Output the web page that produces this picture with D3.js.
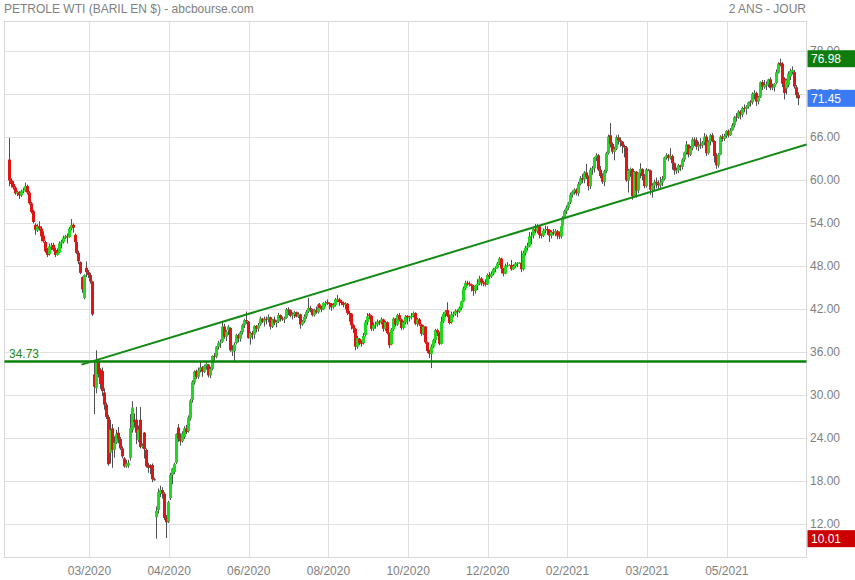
<!DOCTYPE html>
<html><head><meta charset="utf-8">
<script src="https://cdn.jsdelivr.net/npm/d3@7"></script>
<style>html,body{margin:0;padding:0;background:#fff;}svg{display:block;font-family:"Liberation Sans",Arial,sans-serif;}</style>
</head><body><svg id="c" width="855" height="580"></svg>
<script>
// Daily candles [open, high, low, close]
const p2020q1 = [
[62.9,65.9,59.2,60.0],[60.0,60.3,59.0,59.5],[59.5,59.9,58.7,59.0],[59.0,59.2,58.0,58.2],[58.2,58.6,57.8,58.4],
[58.4,58.5,57.4,57.9],[57.9,58.7,57.7,58.5],[58.5,59.0,58.2,58.6],[58.6,59.7,58.4,59.2],[59.2,59.4,58.0,58.3],
[58.3,58.5,56.6,56.8],[56.8,57.0,55.4,55.6],[55.7,55.9,54.0,54.2],[53.8,54.0,52.4,53.1],[53.0,53.9,52.8,53.6],
[53.6,54.3,53.0,53.3],[53.3,53.6,51.5,52.2],[52.3,52.9,51.3,51.5],[51.4,51.6,49.9,50.1],[50.2,50.6,49.3,49.6],
[49.7,51.2,49.5,50.8],[50.8,51.3,50.3,50.9],[51.0,51.3,50.1,50.3],[50.3,50.6,49.3,49.6],[49.6,50.5,49.5,49.9],
[49.9,51.5,49.8,51.2],[51.2,51.7,50.5,51.4],[51.4,52.3,51.2,52.0],[52.0,52.4,51.8,52.2],[52.2,52.6,51.2,52.1],
[52.1,53.5,52.0,53.3],[53.3,54.6,53.0,53.8],[53.8,54.0,52.7,53.4],[52.4,52.6,50.9,51.4],[51.4,51.6,49.7,49.9],
[49.9,50.2,48.3,48.7],[48.6,48.7,46.9,47.1],[46.5,46.6,44.3,44.8],[43.6,46.9,43.4,46.8],[47.8,48.7,46.5,47.2],
[47.2,47.5,46.4,46.8],[46.8,47.1,45.6,45.9],[45.9,46.0,41.1,41.3],[32.9,34.9,27.4,31.2],[31.0,36.3,30.3,34.6],
[34.7,34.9,32.5,33.0],[33.6,33.8,30.9,31.6],[33.4,33.9,29.9,30.6],[30.4,31.0,28.0,28.7],[28.7,29.0,26.7,27.0],
[27.0,27.3,20.2,20.4],[22.0,26.6,20.5,25.2],[25.4,26.0,19.9,22.4],[22.4,24.3,21.3,23.4],[23.4,25.2,23.2,24.6],
[24.8,25.6,23.3,23.9],[23.9,24.2,22.4,22.6],[22.6,22.9,21.2,21.5],[21.2,21.4,19.9,20.1],[20.1,21.0,19.9,20.5]
];
const p2020q2 = [
[20.2,21.0,19.9,20.6],[21.3,27.4,20.9,25.4],[25.2,29.2,24.8,28.3],[26.6,27.5,25.5,26.3],[26.6,28.4,23.2,24.8],
[23.8,25.8,23.5,25.2],[26.6,28.4,22.6,22.8],[22.8,23.3,22.6,23.0],[24.8,24.9,21.2,22.5],[22.4,22.6,19.9,20.1],
[20.3,20.6,19.2,19.9],[20.1,20.4,19.0,19.9],[20.3,20.5,17.9,18.3],[18.3,18.5,18.1,18.2],[13.0,14.5,10.01,13.9],
[14.0,17.0,13.5,16.5],[16.3,17.4,15.8,16.8],[16.8,17.2,15.6,16.3],[16.3,16.5,12.6,12.9],[12.9,13.3,10.1,12.3],
[12.4,15.3,12.2,15.1],[15.7,19.2,15.4,18.9],[18.9,19.9,17.6,19.8],[19.3,20.6,19.0,20.4],[20.6,24.7,20.4,24.6],
[25.5,26.0,23.5,24.0],[24.0,24.7,23.0,23.6],[23.6,25.0,23.4,24.7],[24.2,25.7,23.9,25.4],[25.4,25.9,24.6,24.9],
[25.0,27.2,24.8,26.9],[26.8,29.5,26.5,29.3],[29.4,32.1,29.0,31.9],[31.8,33.5,31.5,33.3],[33.4,33.6,32.3,32.6],
[32.6,33.9,32.3,33.5],[33.5,34.7,33.2,33.9],[33.9,34.1,32.6,33.3],[33.3,34.3,33.1,34.1],[34.1,34.8,33.6,34.4],
[34.3,34.4,32.5,32.8],[32.8,34.0,32.4,33.7],[33.7,35.6,33.5,35.5],[35.5,35.9,34.9,35.4],[35.4,36.9,35.2,36.8],
[36.8,37.6,36.4,37.3],[37.3,37.8,36.6,37.4],[37.5,40.4,37.3,39.6],[39.6,40.0,37.9,38.2],[38.2,39.1,37.6,38.9],
[39.1,39.8,38.4,39.6],[39.4,39.5,36.1,36.3],[36.1,37.0,35.5,36.3],[36.2,37.4,34.8,37.1],[37.3,38.6,37.1,38.4],
[38.4,38.6,37.4,38.0],[37.9,39.0,37.5,38.8],[38.8,40.0,38.5,39.8],[39.8,40.7,39.4,40.5],[40.5,41.7,40.0,40.4],
[40.3,40.4,37.9,38.0],[38.0,38.9,37.1,38.7],[38.7,39.0,37.8,38.5],[38.5,39.8,37.9,39.7],[39.7,39.8,38.8,39.3]
];
const p2020q3 = [
[39.3,40.1,38.9,39.8],[39.9,41.0,39.7,40.7],[40.7,40.8,40.1,40.3],[40.3,41.0,39.6,40.6],[40.7,41.0,39.9,40.6],
[40.6,41.3,40.2,40.9],[40.9,41.0,39.2,39.6],[39.6,40.7,39.4,40.6],[40.6,41.0,39.8,40.1],[40.1,40.5,39.5,40.3],
[40.3,41.5,40.1,41.2],[41.2,41.3,40.3,40.8],[40.8,41.0,40.4,40.6],[40.6,41.0,40.1,40.8],[40.8,42.2,40.7,42.0],
[42.0,42.3,41.2,41.9],[41.9,42.0,40.9,41.1],[41.1,41.6,40.6,41.3],[41.3,41.8,40.8,41.6],[41.6,41.7,40.9,41.0],
[41.0,41.6,40.8,41.3],[41.3,41.4,39.3,39.9],[39.9,40.5,39.7,40.3],[40.3,41.3,40.1,41.0],[41.0,41.9,40.7,41.7],
[41.7,43.6,41.5,42.2],[42.2,42.5,41.6,42.0],[42.0,42.1,41.0,41.2],[41.2,42.1,41.0,41.9],[41.9,42.4,41.4,41.6],
[41.6,42.8,41.4,42.7],[42.7,42.9,42.0,42.2],[42.2,42.5,41.6,42.0],[42.0,43.0,41.9,42.9],[42.8,43.2,42.4,42.9],
[43.0,43.4,42.6,42.9],[42.9,43.0,42.0,42.8],[42.8,42.9,41.8,42.3],[42.3,42.9,42.1,42.6],[42.6,43.6,42.4,43.4],
[43.3,44.0,43.0,43.4],[43.4,43.6,42.5,43.0],[43.1,43.3,42.6,42.9],[42.9,43.1,42.3,42.6],[42.6,43.0,42.0,42.8],
[42.8,42.9,41.2,41.5],[41.5,41.8,40.3,41.4],[41.4,41.5,39.2,39.8],[39.8,40.0,38.7,39.3],[39.3,39.4,36.3,36.8],
[36.8,38.3,36.5,38.0],[37.9,38.0,37.0,37.3],[37.4,37.7,36.8,37.2],[37.3,38.7,37.1,38.3],[38.4,40.5,38.2,40.2],
[40.2,41.5,39.8,41.0],[41.3,41.5,40.6,41.1],[41.1,41.2,39.0,39.3],[39.3,40.2,39.0,39.8],[39.8,40.3,39.3,39.9],
[39.9,40.6,39.6,40.3],[40.3,40.5,39.8,40.2],[40.2,40.9,39.9,40.6],[40.6,40.7,38.9,39.3],[39.3,40.4,39.0,40.2],
[40.2,40.3,38.5,38.7]
];
const p2020q4 = [
[38.7,38.8,36.6,37.0],[37.1,39.4,37.0,39.2],[39.2,40.9,39.0,40.7],[40.7,40.8,39.6,39.9],[39.9,41.4,39.7,41.2],
[41.2,41.5,40.3,40.6],[40.6,40.7,39.1,39.4],[39.4,40.4,39.2,40.2],[40.2,41.2,39.9,41.0],[41.1,41.2,39.9,40.9],
[40.8,41.1,40.3,40.9],[40.9,41.5,40.6,41.1],[41.1,41.7,40.9,41.5],[41.5,41.6,39.8,40.0],[40.0,40.8,39.6,40.6],
[40.6,40.8,39.7,39.9],[39.9,40.0,38.3,38.6],[38.6,39.8,38.4,39.6],[39.6,39.7,37.2,37.4],[37.4,37.5,35.9,36.2],
[36.2,36.4,35.2,35.8],[35.8,37.1,33.8,36.8],[36.8,37.9,36.6,37.7],[37.7,39.3,37.3,39.1],[39.1,39.3,38.3,38.8],
[38.8,38.9,37.0,37.2],[37.2,41.0,37.1,40.3],[40.3,41.6,40.1,41.4],[41.4,41.9,40.9,41.7],[41.9,43.0,40.9,41.1],
[41.1,41.3,39.9,40.1],[40.2,41.7,40.0,41.3],[41.3,41.7,40.9,41.4],[41.4,42.0,41.1,41.8],[41.8,42.0,40.9,41.7],
[41.7,42.4,41.5,42.2],[42.2,43.2,41.9,43.1],[43.1,45.2,43.0,44.9],[44.9,46.0,44.7,45.7],[45.7,46.0,45.3,45.6],
[45.6,45.9,45.2,45.5],[45.5,45.6,44.5,45.3],[45.3,45.4,43.9,44.6],[44.6,45.4,44.2,45.3],[45.3,46.2,44.7,45.6],
[45.6,46.7,45.4,46.3],[46.3,46.5,45.3,45.8],[45.8,46.0,45.2,45.6],[45.6,46.2,45.2,45.5],[45.5,47.0,45.4,46.8],
[46.8,47.2,46.2,46.6],[46.6,47.3,46.4,47.0],[47.0,47.8,46.8,47.6],[47.6,48.0,47.2,47.8],[47.8,48.6,47.7,48.4],
[48.4,49.3,48.2,49.1],[49.1,49.2,47.0,47.7],[47.7,47.8,46.6,47.0],[47.0,48.4,46.9,48.1],[48.1,48.6,47.9,48.2],
[48.2,48.3,48.1,48.2],[48.2,48.9,47.4,47.6],[47.6,48.3,47.5,48.0],[48.0,48.6,47.8,48.4],[48.4,48.6,47.9,48.5]
];
const p2021q1 = [
[48.5,48.6,48.4,48.5],[48.5,50.2,47.2,47.6],[47.6,50.2,47.4,49.9],[49.9,50.9,49.5,50.6],[50.6,51.3,50.2,50.8],
[50.8,52.8,50.7,52.2],[52.2,52.8,51.1,52.3],[52.3,53.5,51.9,53.2],[53.2,53.9,52.6,52.9],[52.9,53.9,52.6,53.6],
[53.6,53.7,51.9,52.4],[52.4,52.6,51.9,52.3],[52.3,53.3,52.1,53.0],[53.0,53.7,52.6,53.2],[53.2,53.6,52.4,53.1],
[53.1,53.2,51.4,52.3],[52.3,53.0,51.9,52.8],[52.8,53.2,52.3,52.6],[52.6,53.2,52.2,52.9],[52.9,53.1,51.8,52.3],
[52.3,52.9,51.8,52.2],[52.2,53.8,51.9,53.6],[53.6,55.0,53.4,54.8],[54.8,55.9,54.6,55.7],[55.7,56.5,55.3,56.2],
[56.2,57.0,55.9,56.9],[56.9,58.3,56.7,58.0],[58.0,58.6,57.6,58.4],[58.4,58.9,58.0,58.7],[58.7,58.9,57.9,58.2],
[58.2,59.8,57.8,59.5],[59.5,60.6,59.3,60.3],[60.3,60.9,59.6,60.1],[60.1,61.3,59.6,61.1],[61.1,62.3,60.2,60.5],
[60.5,60.7,58.6,59.2],[59.2,61.8,58.8,61.5],[61.5,62.0,60.8,61.7],[61.7,63.3,61.1,63.2],[63.2,63.8,62.7,63.5],
[63.5,63.7,61.3,61.5],[61.5,62.0,60.3,60.6],[60.6,61.0,59.5,59.8],[59.8,61.5,59.2,61.3],[61.3,64.0,61.0,63.8],
[63.8,66.4,63.6,66.1],[66.3,68.0,64.6,65.1],[65.1,65.3,63.7,64.0],[64.0,64.7,62.8,64.4],[64.4,66.3,64.2,66.0],
[66.0,66.4,65.0,65.6],[65.6,66.0,64.7,65.4],[65.4,65.5,63.8,64.8],[64.8,65.0,63.2,64.6],[64.6,64.8,59.8,60.0],
[60.0,61.6,58.3,61.4],[61.4,61.8,60.5,61.6],[61.6,61.7,57.3,57.8],[57.8,61.3,57.6,61.2],[61.2,61.3,57.6,58.6],
[58.6,61.1,58.2,61.0],[61.0,62.4,60.3,61.6],[61.6,61.7,60.0,60.6],[60.6,60.9,58.9,59.2]
];
const p2021q2 = [
[59.2,61.7,59.0,61.5],[61.5,61.6,61.3,61.4],[61.4,61.5,58.0,58.7],[58.7,59.6,57.6,59.3],[59.3,60.1,58.6,59.8],
[59.8,60.4,58.9,59.6],[59.6,60.0,58.8,59.3],[59.3,60.5,58.9,59.7],[59.7,60.6,59.2,60.2],[60.2,63.3,60.0,63.2],
[63.2,63.8,62.9,63.5],[63.5,63.7,62.7,63.1],[63.1,64.5,62.9,63.4],[63.4,63.6,61.5,62.4],[62.4,62.5,60.8,61.4],
[61.3,61.8,60.9,61.4],[61.4,62.3,61.0,62.1],[62.1,62.2,61.3,61.9],[61.9,63.1,61.5,62.9],[62.9,64.0,62.6,63.9],
[63.9,65.5,63.6,65.0],[65.0,65.0,63.2,63.6],[63.6,64.8,63.4,64.5],[64.5,66.0,64.2,65.7],[65.7,66.0,64.8,65.6],
[65.6,66.0,64.3,64.7],[64.7,65.4,64.1,64.9],[65.0,65.9,64.4,64.9],[64.9,65.5,64.5,65.3],[65.3,66.6,64.9,66.1],
[66.1,66.4,63.4,63.8],[63.8,65.6,63.6,65.4],[65.4,66.5,64.9,66.3],[66.3,66.6,65.3,65.5],[65.5,65.6,62.5,63.4],
[63.4,63.8,61.6,62.1],[62.1,63.8,61.8,63.6],[63.6,66.3,63.5,66.1],[66.1,66.5,65.4,65.8],[65.8,66.5,65.5,66.2],
[66.2,67.0,65.9,66.9],[66.9,67.1,66.0,66.3],[66.3,67.3,66.2,67.0],[67.0,68.0,66.9,67.7],[67.7,69.0,67.4,68.8],
[68.9,69.4,68.2,68.8],[68.8,69.8,68.6,69.6],[69.6,69.8,68.5,69.2],[69.2,70.3,68.8,70.1],[70.1,70.6,69.5,70.0],
[70.0,70.5,69.2,70.3],[70.3,71.0,70.0,70.9],[71.0,71.2,70.3,70.9],[70.9,72.3,70.6,72.1],[72.1,72.6,71.3,72.2],
[72.2,72.4,70.4,71.0],[71.0,71.8,70.6,71.6],[71.6,73.8,71.5,73.7],[73.7,74.0,72.6,73.1],[73.0,74.0,72.8,73.3],
[73.2,73.8,72.6,73.4],[73.4,74.2,73.0,74.1],[74.1,74.4,72.6,72.9],[72.9,73.5,72.6,73.0],[73.0,73.6,72.4,73.5]
];
const p2021q3 = [
[73.6,75.5,73.4,75.1],[75.0,76.5,74.9,76.3],[76.4,76.98,75.9,76.1],[76.3,76.5,73.0,73.5],[74.2,74.4,71.3,72.2],
[72.8,74.2,72.0,74.0],[73.3,75.2,73.0,74.9],[74.5,75.6,74.0,75.3],[75.1,75.9,74.8,75.4],[75.1,75.4,72.8,73.1],
[73.0,73.3,71.5,71.9],[71.9,72.3,70.5,71.45]
];
const xTickIndex = [40, 80, 120, 160, 200, 240, 280, 320, 360];
const xTickLabels = ["03/2020","04/2020","06/2020","08/2020","10/2020","12/2020","02/2021","03/2021","05/2021"];
const yTicks = [12, 18, 24, 30, 36, 42, 48, 54, 60, 66, 72, 78];
const supportLevel = 34.73;
const trendPoints = [[36, 34.3], [400, 65.0]];
const titleText = "PETROLE WTI (BARIL EN $) - abcbourse.com";
const periodText = "2 ANS - JOUR";

const candles = [].concat(p2020q1, p2020q2, p2020q3, p2020q4, p2021q1, p2021q2, p2021q3)
  .map((r, i) => ({i, o: r[0], h: r[1], l: r[2], c: r[3]}));

const svg = d3.select("#c");
const plot = {left: 4.5, right: 806.5, top: 21.5, bottom: 557.5};
const x = d3.scaleLinear().domain([-2.65, 400]).range([plot.left, plot.right]);
const y = d3.scaleLinear().domain([12, 78]).range([524.4, 51.4]);
const gridCol = "#e0e0e0", txtCol = "#808080";
const GREEN = "#1fd81f", RED = "#dd1515", WICK = "#505050";

// grid
const grid = svg.append("g");
grid.selectAll("line.h").data(yTicks).join("line")
  .attr("x1", plot.left).attr("x2", plot.right)
  .attr("y1", d => Math.round(y(d)) + 0.5).attr("y2", d => Math.round(y(d)) + 0.5)
  .attr("stroke", gridCol);
grid.selectAll("line.v").data(xTickIndex).join("line")
  .attr("y1", plot.top).attr("y2", plot.bottom)
  .attr("x1", d => Math.round(x(d)) + 0.5).attr("x2", d => Math.round(x(d)) + 0.5)
  .attr("stroke", gridCol);
grid.append("rect").attr("x", plot.left).attr("y", plot.top)
  .attr("width", plot.right - plot.left).attr("height", plot.bottom - plot.top)
  .attr("fill", "none").attr("stroke", "#d8d8d8");

// candles
const cg = svg.append("g");
cg.selectAll("line.w").data(candles).join("line")
  .attr("x1", d => Math.round(x(d.i)) - 0.5).attr("x2", d => Math.round(x(d.i)) - 0.5)
  .attr("y1", d => y(d.h)).attr("y2", d => y(d.l))
  .attr("stroke", WICK).attr("stroke-width", 1);
cg.selectAll("rect").data(candles).join("rect")
  .attr("x", d => Math.round(x(d.i)) - 2).attr("width", 3)
  .attr("y", d => y(Math.max(d.o, d.c)))
  .attr("height", d => Math.max(1, Math.abs(y(d.o) - y(d.c))))
  .attr("fill", d => d.c >= d.o ? GREEN : RED);

// support line
svg.append("line").attr("x1", plot.left).attr("x2", plot.right)
  .attr("y1", y(supportLevel)).attr("y2", y(supportLevel))
  .attr("stroke", "#0a820a").attr("stroke-width", 2.4);
svg.append("text").attr("x", 9).attr("y", y(supportLevel) - 4)
  .attr("fill", "#1a8a1a").attr("font-size", 12).text(supportLevel.toFixed(2));

// trend line
svg.append("line")
  .attr("x1", x(trendPoints[0][0])).attr("y1", y(trendPoints[0][1]))
  .attr("x2", x(trendPoints[1][0])).attr("y2", y(trendPoints[1][1]))
  .attr("stroke", "#138a13").attr("stroke-width", 2);

// y labels
svg.append("g").selectAll("text").data(yTicks).join("text")
  .attr("x", 810).attr("y", d => y(d) + 4)
  .attr("fill", txtCol).attr("font-size", 12).text(d => d.toFixed(2));

// x labels
svg.append("g").selectAll("text").data(xTickIndex).join("text")
  .attr("x", d => x(d)).attr("y", 575).attr("text-anchor", "middle")
  .attr("fill", txtCol).attr("font-size", 12).text((d, k) => xTickLabels[k]);

// titles
svg.append("text").attr("x", 4).attr("y", 13).attr("fill", txtCol).attr("font-size", 12).text(titleText);
svg.append("text").attr("x", 806).attr("y", 13).attr("text-anchor", "end").attr("fill", txtCol).attr("font-size", 12).text(periodText);

// value boxes (drawn over the axis labels they cover, as in the original)
const hi = d3.max(candles, d => d.h), lo = d3.min(candles, d => d.l), last = candles[candles.length - 1].c;
const boxes = [{v: hi, col: "#0e7d0e"}, {v: last, col: "#3a7bf5"}, {v: lo, col: "#cc0000"}];
const bg = svg.append("g").selectAll("g").data(boxes).join("g");
bg.append("rect").attr("x", 807.5).attr("width", 48).attr("y", d => y(d.v) - 8.5).attr("height", 17).attr("fill", d => d.col);
bg.append("text").attr("x", 811).attr("y", d => y(d.v) + 4.5).attr("fill", "#fff").attr("font-size", 12).text(d => d.v.toFixed(2));
</script></body></html>
